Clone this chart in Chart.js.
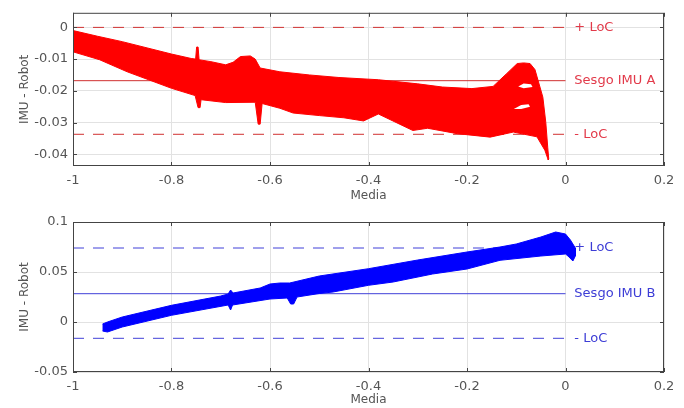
<!DOCTYPE html>
<html lang="es">
<head>
<meta charset="UTF-8">
<title>IMU - Robot</title>
<script src="https://cdn.jsdelivr.net/npm/chart.js"></script>
<style>
  body { margin: 0; background: #fff; }
  .graf { position: absolute; left: 0; width: 684px; height: 204px; }
</style>
</head>
<body>
<div class="graf" style="top:0"><canvas id="chartA" width="684" height="204"></canvas></div>
<div class="graf" style="top:204px"><canvas id="chartB" width="684" height="204"></canvas></div>

<script>
// ejes
var xTicks = [-1, -0.8, -0.6, -0.4, -0.2, 0, 0.2];
var xTickLabels = ['-1', '-0.8', '-0.6', '-0.4', '-0.2', '0', '0.2'];
var aTicks = [-0.04, -0.03, -0.02, -0.01, 0];
var aTickLabels = ['-0.04', '-0.03', '-0.02', '-0.01', '0'];
var bTicks = [-0.05, 0, 0.05, 0.1];
var bTickLabels = ['-0.05', '0', '0.05', '0.1'];

// IMU A: borde superior de la nube (izq -> der)
var aUpX = [-1.0, -0.95, -0.9, -0.8, -0.76, -0.751, -0.749, -0.746, -0.744, -0.72, -0.69, -0.675, -0.66, -0.64, -0.63, -0.62,
            -0.58, -0.52, -0.46, -0.38, -0.3, -0.25, -0.19, -0.147, -0.119, -0.098, -0.085, -0.072, -0.062, -0.046, -0.04, -0.036, -0.034];
var aUpY = [-0.001, -0.0028, -0.0045, -0.0084, -0.0098, -0.0100, -0.0062, -0.0062, -0.0102, -0.0108, -0.0118, -0.0110, -0.0092, -0.0090, -0.0100, -0.0128,
            -0.0140, -0.0150, -0.0158, -0.0165, -0.0178, -0.0188, -0.0193, -0.0186, -0.0145, -0.0114, -0.0112, -0.0114, -0.0133, -0.0220, -0.0300, -0.0380, -0.0415];
// IMU A: borde inferior (der -> izq)
var aLowX = [-0.035, -0.042, -0.058, -0.106, -0.153, -0.22, -0.28, -0.31, -0.38, -0.41, -0.45, -0.5, -0.553, -0.58, -0.616, -0.62, -0.624,
             -0.63, -0.69, -0.74, -0.742, -0.746, -0.752, -0.8, -0.89, -0.946, -1.0];
var aLowY = [-0.0418, -0.0387, -0.0345, -0.0330, -0.0346, -0.0335, -0.0318, -0.0325, -0.0273, -0.0295, -0.0285, -0.0278, -0.0270, -0.0255, -0.0240, -0.0305, -0.0305,
             -0.0236, -0.0237, -0.0228, -0.0253, -0.0253, -0.0215, -0.0192, -0.0140, -0.0102, -0.0077];
// huecos blancos dentro de la nube, cerca del pico
var aHueco1X = [-0.096, -0.085, -0.07, -0.067, -0.085];
var aHueco1Y = [-0.0186, -0.0177, -0.0179, -0.0188, -0.0192];
var aHueco2X = [-0.105, -0.09, -0.075, -0.072, -0.09];
var aHueco2Y = [-0.0257, -0.0245, -0.0242, -0.0250, -0.0257];
var aLoc = [0.0, -0.0168, -0.0337];           // +LoC, sesgo, -LoC
var aLocText = ['+ LoC', 'Sesgo IMU A', '- LoC'];

// IMU B: borde superior (izq -> der)
var bUpX = [-0.94, -0.93, -0.9, -0.8, -0.7, -0.685, -0.68, -0.675, -0.62, -0.6, -0.58, -0.56, -0.5, -0.4, -0.3, -0.2, -0.133, -0.1, -0.05, -0.02, 0.0, 0.01, 0.02];
var bUpY = [-0.002, 0.0, 0.005, 0.0167, 0.026, 0.028, 0.032, 0.029, 0.034, 0.038, 0.039, 0.039, 0.046, 0.0533, 0.062, 0.070, 0.075, 0.078, 0.085, 0.090, 0.088, 0.082, 0.074];
// IMU B: borde inferior (der -> izq)
var bLowX = [0.02, 0.015, 0.005, 0.0, -0.05, -0.133, -0.2, -0.27, -0.35, -0.4, -0.472, -0.5, -0.545, -0.552, -0.558, -0.565, -0.6, -0.676, -0.68, -0.685, -0.8, -0.9, -0.93, -0.94];
var bLowY = [0.066, 0.061, 0.066, 0.068, 0.066, 0.0617, 0.053, 0.048, 0.040, 0.0367, 0.030, 0.0285, 0.025, 0.018, 0.018, 0.024, 0.023, 0.017, 0.012, 0.017, 0.0067, -0.005, -0.010, -0.009];
var bLoc = [0.074, 0.0283, -0.0163];
var bLocText = ['+ LoC', 'Sesgo IMU B', '- LoC'];

function puntos(xs, ys) {
    var p = [];
    for (var i = 0; i < xs.length; i++) p.push({ x: xs[i], y: ys[i] });
    return p;
}

// marco con marcas hacia dentro, estilo matlab
var marco = {
    id: 'marco',
    afterDraw: function (chart) {
        var ctx = chart.ctx, a = chart.chartArea;
        var sx = chart.scales.x, sy = chart.scales.y;
        ctx.save();
        ctx.strokeStyle = '#444';
        ctx.lineWidth = 1;
        ctx.strokeRect(a.left + 0.5, a.top + 0.5, a.right - a.left - 1, a.bottom - a.top - 1);
        ctx.beginPath();
        sx.ticks.forEach(function (t) {
            var px = Math.round(sx.getPixelForValue(t.value)) + 0.5;
            ctx.moveTo(px, a.bottom); ctx.lineTo(px, a.bottom - 4);
            ctx.moveTo(px, a.top); ctx.lineTo(px, a.top + 4);
        });
        sy.ticks.forEach(function (t) {
            var py = Math.round(sy.getPixelForValue(t.value)) + 0.5;
            ctx.moveTo(a.left, py); ctx.lineTo(a.left + 4, py);
            ctx.moveTo(a.right, py); ctx.lineTo(a.right - 4, py);
        });
        ctx.stroke();
        ctx.restore();
    }
};

var etiquetas = {
    id: 'etiquetas',
    afterDatasetsDraw: function (chart, args, opts) {
        var ctx = chart.ctx;
        var sx = chart.scales.x, sy = chart.scales.y;
        ctx.save();
        ctx.font = '13px "DejaVu Sans"';
        ctx.fillStyle = opts.color;
        ctx.textAlign = 'left';
        ctx.textBaseline = 'middle';
        for (var i = 0; i < opts.values.length; i++) {
            ctx.fillText(opts.texts[i], sx.getPixelForValue(0.018), sy.getPixelForValue(opts.values[i]));
        }
        ctx.restore();
    }
};

function grafico(id, banda, huecos, loc, locText, colorBanda, colorLinea, colorTexto, yMin, yMax, yTicks, yTickLabels, padTop, altoX) {
    var datasets = [{
        data: banda,
        borderColor: colorBanda,
        backgroundColor: colorBanda,
        borderWidth: 1,
        fill: 'shape',
        pointRadius: 0,
        order: 1
    }];
    huecos.forEach(function (h) {
        datasets.push({
            data: h,
            borderColor: 'rgba(255,255,255,0)',
            backgroundColor: '#ffffff',
            borderWidth: 0,
            fill: 'shape',
            pointRadius: 0,
            order: 0
        });
    });
    for (var i = 0; i < loc.length; i++) {
        datasets.push({
            data: [{ x: -1, y: loc[i] }, { x: 0, y: loc[i] }],
            borderColor: colorLinea,
            borderWidth: 1,
            borderDash: i == 1 ? [] : [11, 9],
            fill: false,
            pointRadius: 0,
            order: 2
        });
    }
    return new Chart(document.getElementById(id), {
        type: 'line',
        data: { datasets: datasets },
        plugins: [marco, etiquetas],
        options: {
            responsive: false,
            animation: false,
            devicePixelRatio: 1,
            layout: { padding: { top: padTop, right: 20, bottom: 0, left: 0 } },
            plugins: {
                legend: { display: false },
                tooltip: { enabled: false },
                etiquetas: { values: loc, texts: locText, color: colorTexto }
            },
            scales: {
                x: {
                    type: 'linear',
                    min: -1, max: 0.2,
                    afterBuildTicks: function (s) { s.ticks = xTicks.map(function (v) { return { value: v }; }); },
                    afterFit: function (s) { s.height = altoX; },
                    grid: { color: '#e2e2e2', drawTicks: false },
                    border: { display: false },
                    ticks: {
                        autoSkip: false, maxRotation: 0, padding: 7,
                        color: '#555', font: { family: 'DejaVu Sans', size: 13 },
                        callback: function (v, i) { return xTickLabels[i]; }
                    },
                    title: {
                        display: true, text: 'Media', color: '#555',
                        font: { family: 'DejaVu Sans', size: 12 }, padding: { top: 0, bottom: 1 }
                    }
                },
                y: {
                    type: 'linear',
                    min: yMin, max: yMax,
                    afterBuildTicks: function (s) { s.ticks = yTicks.map(function (v) { return { value: v }; }); },
                    afterFit: function (s) { s.width = 73; },
                    grid: { color: '#e2e2e2', drawTicks: false },
                    border: { display: false },
                    ticks: {
                        autoSkip: false, padding: 5,
                        color: '#555', font: { family: 'DejaVu Sans', size: 13 },
                        callback: function (v, i) { return yTickLabels[i]; }
                    },
                    title: {
                        display: true, text: 'IMU - Robot', color: '#555',
                        font: { family: 'DejaVu Sans', size: 12 }, padding: { top: 18, bottom: 0 }
                    }
                }
            }
        }
    });
}

var bandaA = puntos(aUpX, aUpY).concat(puntos(aLowX, aLowY));
var bandaB = puntos(bUpX, bUpY).concat(puntos(bLowX, bLowY));
var huecosA = [puntos(aHueco1X, aHueco1Y), puntos(aHueco2X, aHueco2Y)];

grafico('chartA', bandaA, huecosA, aLoc, aLocText, '#ff0000', '#d03030', '#e23a4a', -0.0437, 0.0046, aTicks, aTickLabels, 10, 38);
grafico('chartB', bandaB, [], bLoc, bLocText, '#0000ff', '#4040d8', '#3d3dd6', -0.05, 0.1, bTicks, bTickLabels, 18, 36);
</script>
</body>
</html>
